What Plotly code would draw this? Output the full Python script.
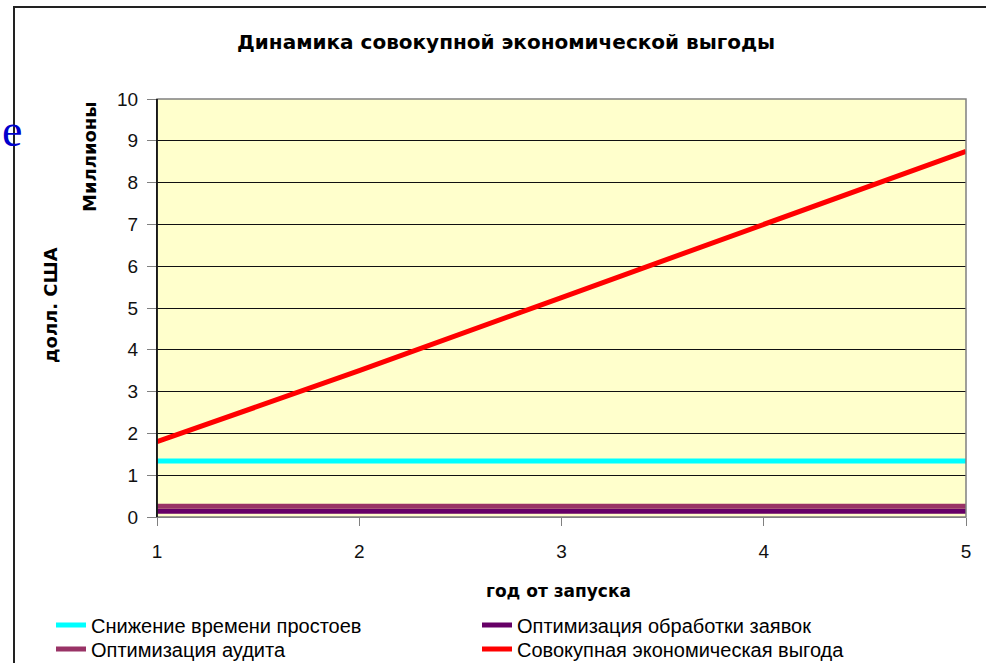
import plotly.graph_objects as go

years = [1, 2, 3, 4, 5]
downtime = [1.34, 1.34, 1.34, 1.34, 1.34]
requests = [0.14, 0.14, 0.14, 0.14, 0.14]
audit = [0.26, 0.26, 0.26, 0.26, 0.26]
total = [1.8, 3.5, 5.25, 7.0, 8.75]

names = ["Снижение времени простоев", "Оптимизация обработки заявок",
         "Оптимизация аудита", "Совокупная экономическая выгода"]
series = [downtime, requests, audit, total]
colors = ["#00FFFF", "#660066", "#993366", "#FF0000"]
legend_ids = ["legend", "legend", "legend2", "legend2"]

fig = go.Figure()
for n, s, c, lg in zip(names, series, colors, legend_ids):
    fig.add_trace(go.Scatter(x=years, y=s, name=n, mode="lines", legend=lg,
                             line=dict(color=c, width=5)))

L, R, T, B = 157, 20, 99, 146
W, H = 986, 663
pw, ph = W - L - R, H - T - B


def px(x):
    return (x - L) / pw


def py(y):
    return (H - B - y) / ph


legfont = dict(family="Liberation Sans, Arial", size=20, color="black")
bold = "DejaVu Sans, Liberation Sans, Arial"

fig.update_layout(
    width=W, height=H,
    margin=dict(l=L, r=R, t=T, b=B, autoexpand=False),
    paper_bgcolor="white",
    plot_bgcolor="#FFFFCC",
    font=dict(family="Liberation Sans, Arial", color="black"),
    xaxis=dict(range=[1, 5], tickvals=years, ticktext=[str(v) for v in years],
               showgrid=False, zeroline=False, showline=True,
               linecolor="#808080", linewidth=1,
               ticks="outside", ticklen=8, tickcolor="#808080",
               ticklabelstandoff=9,
               tickfont=dict(size=19, color="#111111"), fixedrange=True),
    yaxis=dict(range=[0, 10], dtick=1, showgrid=True, gridcolor="#111111",
               gridwidth=1, zeroline=False, showline=True, linecolor="black",
               linewidth=1, ticks="outside", ticklen=9, tickcolor="#808080",
               ticklabelstandoff=5,
               tickfont=dict(size=19, color="#111111"), fixedrange=True),
    showlegend=True,
    legend=dict(orientation="h", x=px(51), y=py(625), xanchor="left",
                yanchor="middle", entrywidth=381, font=legfont,
                itemwidth=30, bgcolor="rgba(0,0,0,0)"),
    legend2=dict(orientation="h", x=px(51), y=py(649), xanchor="left",
                 yanchor="middle", entrywidth=381, font=legfont,
                 itemwidth=30, bgcolor="rgba(0,0,0,0)"),
)

# plot-area frame (gray top/right)
fig.add_shape(type="rect", xref="paper", yref="paper", x0=0, y0=0, x1=1, y1=1,
              line=dict(color="#808080", width=1.5), layer="above")
fig.add_shape(type="line", xref="paper", yref="paper", x0=0, y0=0, x1=0, y1=1,
              line=dict(color="black", width=1.5), layer="above")
# outer chart border
fig.add_shape(type="rect", xref="paper", yref="paper",
              x0=px(14), y0=py(7), x1=px(995), y1=py(675),
              line=dict(color="#222222", width=2), layer="above")


def label(text, x, y, size, angle=0, family=bold, color="black",
          xanchor="center"):
    fig.add_annotation(text=text, xref="paper", yref="paper", x=px(x), y=py(y),
                       textangle=angle, showarrow=False, xanchor=xanchor,
                       yanchor="middle",
                       font=dict(size=size, family=family, color=color))


label("<b>Динамика совокупной экономической выгоды</b>", 506, 42, 20)
label("<b>Миллионы</b>", 90, 157, 18, angle=-90)
label("<b>долл. США</b>", 50, 305, 18, angle=-90)
label("<b>год от запуска</b>", 558, 591, 17)
label("е", 0, 130, 46, family="Liberation Serif, Times New Roman",
      color="#0000CC", xanchor="left")

fig.write_html("out.html", post_script="document.body.style.margin='0';",
               config={"displayModeBar": False})
